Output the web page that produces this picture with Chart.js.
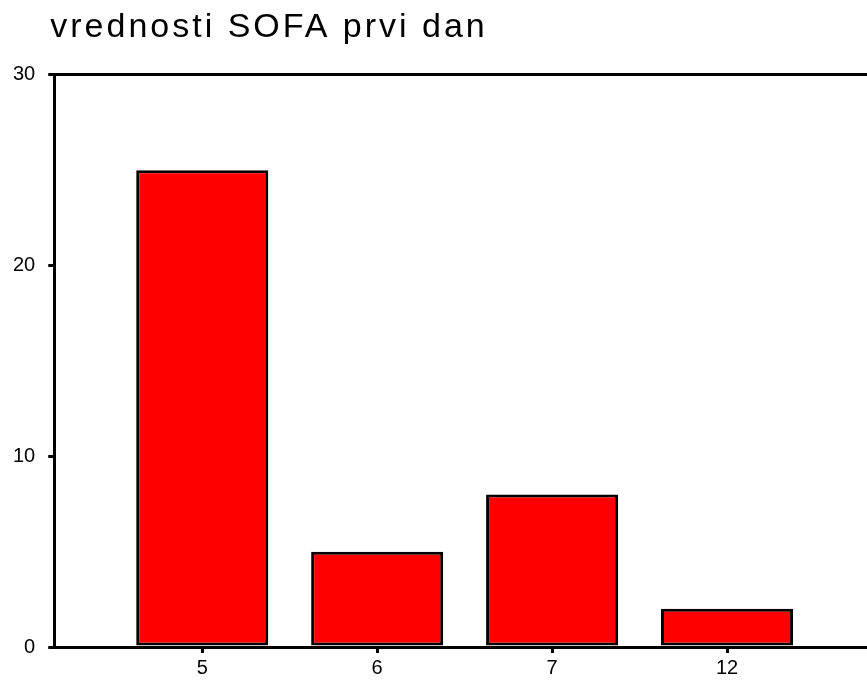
<!DOCTYPE html>
<html>
<head>
<meta charset="utf-8">
<script src="https://cdn.jsdelivr.net/npm/chart.js@4"></script>
<style>
  html, body { margin: 0; padding: 0; background: #fff; }
  #wrap { width: 867px; height: 680px; }
</style>
</head>
<body>
<div id="wrap"><canvas id="sofaChart"></canvas></div>
<script>
const categories = ['5', '6', '7', '12'];
const counts = [25, 5, 8, 2];
const yTicks = [0, 10, 20, 30];

// the title in the original is set wide: spread its letters and nudge it left
const wideTitle = {
    id: 'wideTitle',
    beforeDraw: chart => {
        const t = chart.titleBlock;
        if (!t || t._wide) return;
        const draw = t.draw;
        t.draw = function (...args) {
            const c = this.ctx;
            c.save();
            c.letterSpacing = '3px';
            c.translate(-4, 0);
            draw.apply(this, args);
            c.restore();
        };
        t._wide = true;
    }
};

const ctx = document.getElementById('sofaChart').getContext('2d');

const config = {
    type: 'bar',
    data: {
        datasets: [{
            label: 'vrednosti SOFA prvi dan',
            data: counts.map((v, i) => ({ x: i, y: v })),
            backgroundColor: '#ff0000',
            borderColor: '#000000',
            borderWidth: 3,
            borderSkipped: false,
            categoryPercentage: 1,
            barPercentage: 0.755
        }]
    },
    options: {
        responsive: true,
        maintainAspectRatio: false,
        animation: false,
        layout: { padding: { left: 0, right: 0, top: 0, bottom: -3 } },
        scales: {
            x: {
                type: 'linear',
                offset: false,
                min: -0.846,
                max: 3.8,
                afterBuildTicks: axis => {
                    axis.ticks = categories.map((c, i) => ({ value: i }));
                },
                ticks: {
                    color: '#000',
                    font: { family: 'Liberation Sans', size: 20, lineHeight: 1 },
                    padding: 5,
                    maxRotation: 0,
                    callback: v => categories[v]
                },
                grid: { display: true, offset: false, drawOnChartArea: false, drawTicks: true, tickLength: 6, color: '#000', lineWidth: 3 },
                border: { display: true, color: '#000', width: 3 }
            },
            xTop: {
                type: 'linear',
                position: 'top',
                display: true,
                ticks: { display: false },
                grid: { display: false },
                border: { display: true, color: '#000', width: 3 }
            },
            y: {
                min: 0,
                max: 30,
                afterBuildTicks: axis => {
                    axis.ticks = yTicks.map(v => ({ value: v }));
                },
                ticks: {
                    color: '#000',
                    font: { family: 'Liberation Sans', size: 20 },
                    padding: 13
                },
                grid: { display: true, drawOnChartArea: false, drawTicks: true, tickLength: 6, color: '#000', lineWidth: 3 },
                border: { display: true, color: '#000', width: 3 }
            }
        },
        plugins: {
            legend: { display: false },
            tooltip: { enabled: false },
            title: {
                display: true,
                text: 'vrednosti SOFA prvi dan',
                align: 'start',
                fullSize: false,
                color: '#000',
                font: { family: 'Liberation Sans', size: 34, weight: 'normal' },
                padding: { top: 7, bottom: 19 }
            }
        }
    },
    plugins: [wideTitle]
};

const sofaChart = new Chart(ctx, config);
</script>
</body>
</html>
